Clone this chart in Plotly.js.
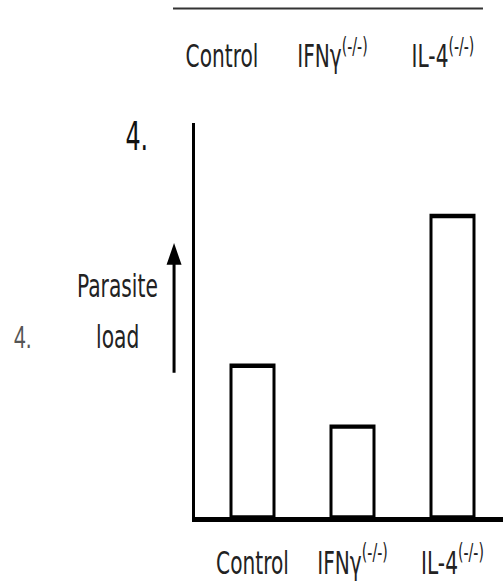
<!DOCTYPE html>
<html>
<head>
<meta charset="utf-8">
<script src="https://cdn.plot.ly/plotly-3.0.1.min.js"></script>
<style>
html,body{margin:0;padding:0;background:#fff;overflow:hidden;}
#wrap{width:503px;height:587px;overflow:hidden;}
#chart{width:503px;height:405px;transform:scaleY(1.4494);transform-origin:0 0;}
</style>
</head>
<body>
<div id="wrap"><div id="chart"></div></div>
<script>
// Data
const categories = ["Control", "IFNy", "IL-4"];
const tickLabels = ["Control", "IFNγ<sup>(-/-)</sup>", "IL-4<sup>(-/-)</sup>"];
const parasiteLoad = [1.52, 0.91, 3.02];
const yAxisLabelLines = ["Parasite", "load"];
const panelLabel = "4.";

const FONT = "'Liberation Sans Narrow', 'DejaVu Sans Condensed', 'Arial Narrow', sans-serif";
const TXT = "#222";

const bars = {
  type: "bar",
  x: categories,
  y: parasiteLoad,
  width: 0.43,
  marker: {color: "#ffffff", line: {color: "#000", width: 3}},
  hoverinfo: "skip"
};
// invisible trace to carry the top category axis
const topAxis = {
  type: "scatter", mode: "markers",
  x: categories, y: parasiteLoad,
  xaxis: "x2", yaxis: "y",
  marker: {opacity: 0}, hoverinfo: "skip"
};

const annotations = [];
annotations.push({xref: "paper", yref: "paper", x: -0.558, y: 0.458, text: panelLabel,
  showarrow: false, xanchor: "center", yanchor: "middle",
  font: {family: "'Liberation Sans', Arial, sans-serif", size: 21, color: "#555"}});
annotations.push({xref: "paper", yref: "paper", x: -0.253, y: 0.587, text: yAxisLabelLines[0],
  showarrow: false, xanchor: "center", yanchor: "middle",
  font: {family: FONT, size: 22.5, color: TXT}});
annotations.push({xref: "paper", yref: "paper", x: -0.253, y: 0.461, text: yAxisLabelLines[1],
  showarrow: false, xanchor: "center", yanchor: "middle",
  font: {family: FONT, size: 22.5, color: TXT}});
// arrow
annotations.push({xref: "paper", yref: "paper", x: -0.068, y: 0.696, text: "",
  showarrow: true, ax: 0, ay: 91, arrowhead: 2, arrowsize: 1, arrowwidth: 3,
  arrowcolor: "#000"});

const layout = {
  width: 503, height: 405,
  margin: {l: 195, r: 0, t: 85, b: 48, pad: 0},
  paper_bgcolor: "#fff", plot_bgcolor: "#fff",
  showlegend: false,
  title: {text: panelLabel, xref: "container", x: 0.272, xanchor: "center",
    yref: "container", y: 0.767, yanchor: "middle",
    font: {family: FONT, size: 26.5, color: "#111"}},
  xaxis: {
    type: "category",
    range: [-0.575, 2.505],
    tickvals: categories, ticktext: tickLabels,
    showline: true, linecolor: "#000", linewidth: 3,
    showgrid: false, zeroline: false, ticks: "",
    ticklabelstandoff: 9,
    tickfont: {family: FONT, size: 22.4, color: TXT}
  },
  xaxis2: {
    type: "category", overlaying: "x", side: "top",
    range: [-0.244, 2.543],
    tickvals: categories, ticktext: tickLabels,
    showline: false, showgrid: false, zeroline: false, ticks: "",
    ticklabelstandoff: 33,
    tickfont: {family: FONT, size: 22.4, color: TXT}
  },
  yaxis: {
    range: [0, 3.95],
    showline: true, linecolor: "#000", linewidth: 3,
    showgrid: false, zeroline: false, ticks: "", showticklabels: false
  },
  shapes: [{type: "line", xref: "paper", yref: "paper", x0: -0.0714, x1: 0.935,
    y0: 1.291, y1: 1.291, line: {color: "#333", width: 1.4}}],
  annotations: annotations
};

Plotly.newPlot("chart", [bars, topAxis], layout, {displayModeBar: false, staticPlot: true});
</script>
</body>
</html>
